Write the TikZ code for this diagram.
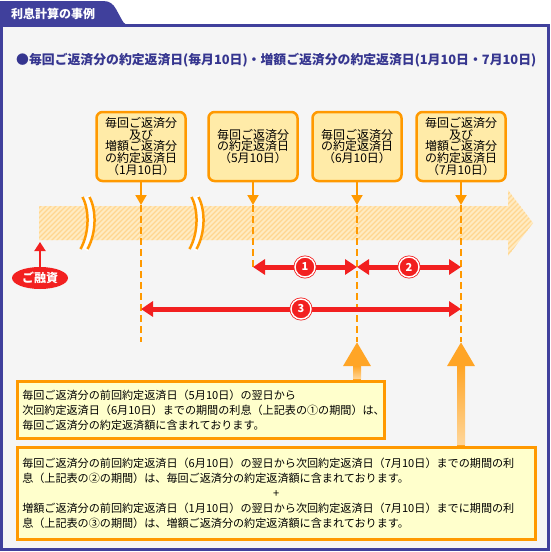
\documentclass[tikz,border=0pt]{standalone}
\usepackage{fontspec}
\setmainfont{Noto Sans CJK JP}
\usetikzlibrary{arrows.meta,shapes.geometric,calc}
\definecolor{frameblue}{HTML}{40409C}
\definecolor{titleblue}{HTML}{35358F}
\definecolor{pageback}{HTML}{F5F5F5}
\definecolor{markorange}{HTML}{FF9900}
\definecolor{datefill}{HTML}{FFEBA8}
\definecolor{notefill}{HTML}{FFFFCC}
\definecolor{bandfill}{HTML}{FFEBC2}
\definecolor{bandline}{HTML}{FFD690}
\definecolor{periodred}{HTML}{F22020}
\definecolor{liftorange}{HTML}{FFA526}
\definecolor{liftlight}{HTML}{FFD699}
\begin{document}
\begin{tikzpicture}[x=1pt,y=-1pt,
    datebox/.style={draw=markorange,line width=2.5pt,fill=datefill,rounded corners=6pt,
      minimum width=89pt,minimum height=69pt,inner sep=0pt,align=center,
      font=\fontsize{12}{11.7}\selectfont},
    notebox/.style={draw=markorange,line width=2.5pt,fill=notefill,inner xsep=5pt,inner ysep=0pt,
      align=left,anchor=north west,font=\fontsize{11.1}{15}\selectfont},
    pointer/.style={draw=markorange,line width=2pt,-{Triangle[width=11pt,length=10pt]}},
    guide/.style={draw=markorange,line width=2pt,dash pattern=on 7pt off 4pt},
    period/.style={draw=periodred,line width=5pt,
      {Triangle[width=15pt,length=12pt]}-{Triangle[width=15pt,length=12pt]}},
    nummark/.style={circle,fill=periodred,draw=periodred,double=white,double distance=1.4pt,
      line width=0.8pt,minimum size=20pt,inner sep=0pt,text=white,font=\fontsize{11}{11}\bfseries},
    raise/.style={draw=periodred,line width=2pt,-{Triangle[width=11pt,length=9pt]}},
    lift/.style={draw=liftorange,line width=8pt,-{Triangle[width=26pt,length=24pt]}}]
  \useasboundingbox (0,0) rectangle (550,552);
  % frame and tab
  \draw[frameblue,line width=3pt,fill=pageback] (1.5,25.5) rectangle (548.5,549.5);
  \fill[frameblue] (0,1) -- (103,1) .. controls (110,1) and (113,4) .. (116,9)
    -- (122,20) .. controls (124,24) and (126,25) .. (132,25) -- (0,25) -- cycle;
  \draw
    (11,14) node[anchor=west,inner sep=0pt,text=white,font=\fontsize{12}{12}\bfseries] (tab){利息計算の事例}
    (16,60) node[anchor=west,inner sep=0pt,text=titleblue,font=\fontsize{12.85}{13}\bfseries] (title)
      {●毎回ご返済分の約定返済日(毎月10日)・増額ご返済分の約定返済日(1月10日・7月10日)};
  % time band
  \begin{scope}
    \clip (39,206) -- (508,206) -- (508,190) -- (533,223) -- (508,256) -- (508,240) -- (39,240) -- cycle;
    \fill[bandfill] (30,185) rectangle (540,260);
    \foreach \hx in {-40,-35,...,540}
      \draw[bandline,line width=1.3pt] (\hx,262) -- (\hx+75,187);
  \end{scope}
  \foreach \bx in {87,196} {
    \draw[white,line width=9pt] (\bx-1,197) .. controls (\bx+6,210) and (\bx+6,233) .. (\bx-3,249);
    \draw[markorange,line width=2.5pt] (\bx-4.5,197) .. controls (\bx+2.5,210) and (\bx+2.5,233) .. (\bx-6.5,249);
    \draw[markorange,line width=2.5pt] (\bx+2.5,197) .. controls (\bx+9.5,210) and (\bx+9.5,233) .. (\bx+0.5,249);
  }
  \coordinate (g1) at (141,205);
  \coordinate (g2) at (253,205);
  \coordinate (g3) at (357,205);
  \coordinate (g4) at (461,205);
  \coordinate (h1) at (141,342);
  \coordinate (h2) at (253,267);
  \coordinate (h3) at (357,342);
  \coordinate (h4) at (461,342);
  \coordinate (p3) at (357,267);
  \coordinate (p4) at (461,267);
  \coordinate (q1) at (141,309);
  \coordinate (q4) at (461,309);
  \coordinate (l0) at (40,242);
  \draw
    (141,146.5) node[datebox] (d1){毎回ご返済分\\及び\\増額ご返済分\\の約定返済日\\（1月10日）}
    (253,146.5) node[datebox] (d2){毎回ご返済分\\の約定返済日\\（5月10日）}
    (357,146.5) node[datebox] (d3){毎回ご返済分\\の約定返済日\\（6月10日）}
    (461,146.5) node[datebox] (d4){毎回ご返済分\\及び\\増額ご返済分\\の約定返済日\\（7月10日）}
    (40,278) node[ellipse,fill=periodred,minimum width=56pt,minimum height=22pt,inner sep=0pt,
      text=white,font=\fontsize{12}{12}\bfseries] (loan){ご融資};
  \begin{scope}
    \draw[guide] (g1) to (h1);
    \draw[guide] (g2) to (h2);
    \draw[guide] (g3) to (h3);
    \draw[guide] (g4) to (h4);
    \draw[pointer] (d1) to (g1);
    \draw[pointer] (d2) to (g2);
    \draw[pointer] (d3) to (g3);
    \draw[pointer] (d4) to (g4);
    \draw[period] (h2) to node[nummark]{1} (p3);
    \draw[period] (p3) to node[nummark]{2} (p4);
    \draw[period] (q1) to node[nummark]{3} (q4);
    \draw[raise] (loan) to (l0);
  \end{scope}
  % notes
  \draw
    (16,380) node[notebox,minimum width=367pt,minimum height=57pt,text width=357pt] (noteA)
      {毎回ご返済分の前回約定返済日（5月10日）の翌日から\\
       次回約定返済日（6月10日）までの期間の利息（上記表の①の期間）は、\\
       毎回ご返済分の約定返済額に含まれております。}
    (16,446) node[notebox,minimum width=518pt,minimum height=92pt,text width=508pt] (noteB)
      {毎回ご返済分の前回約定返済日（6月10日）の翌日から次回約定返済日（7月10日）までの期間の利\\
       息（上記表の②の期間）は、毎回ご返済分の約定返済額に含まれております。\\
       \makebox[\linewidth]{+}\\
       増額ご返済分の前回約定返済日（1月10日）の翌日から次回約定返済日（7月10日）までに期間の利\\
       息（上記表の③の期間）は、増額ご返済分の約定返済額に含まれております。};
  \draw[lift] (noteA.north -| h3) to (h3);
  \draw[lift] (noteB.north -| h4) to (h4);
  \shade[top color=liftorange,bottom color=liftlight] ($(h3)+(-4,24)$) rectangle ($(noteA.north -| h3)+(4,-1.2)$);
  \shade[top color=liftorange,bottom color=liftlight] ($(h4)+(-4,24)$) rectangle ($(noteB.north -| h4)+(4,-1.2)$);
\end{tikzpicture}
\end{document}
